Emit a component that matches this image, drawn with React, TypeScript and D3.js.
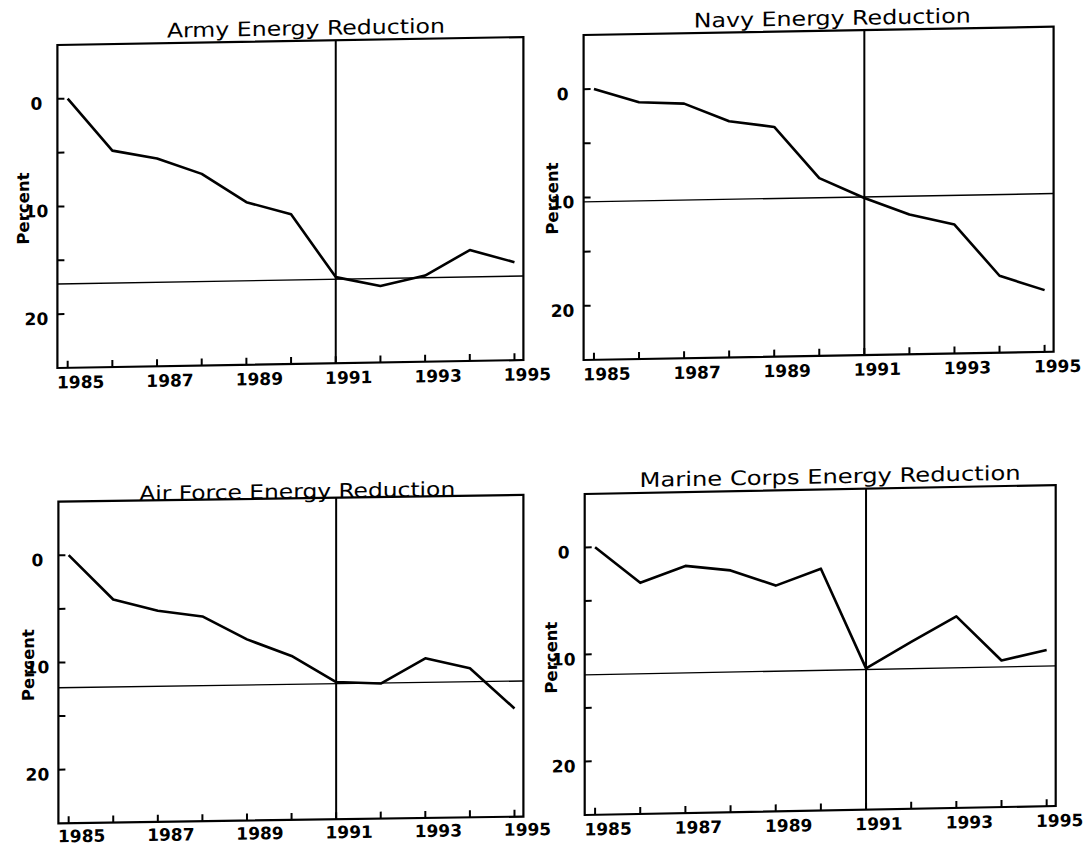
import React from 'react';
import * as d3 from 'd3';

// years on the x axis, one point per year
const years = [1985, 1986, 1987, 1988, 1989, 1990, 1991, 1992, 1993, 1994, 1995];

// percent reduction
const armyValues = [0, 4.9, 5.7, 7.2, 9.9, 11.1, 17.0, 17.9, 17.0, 14.7, 15.9];
const navyValues = [0, 1.3, 1.5, 3.2, 3.8, 8.6, 10.5, 12.1, 13.1, 17.9, 19.3];
const airForceValues = [0, 4.2, 5.3, 5.9, 8.1, 9.7, 12.2, 12.4, 10.1, 11.1, 14.9];
const marineValues = [0, 3.4, 1.9, 2.4, 3.9, 2.4, 11.8, 9.4, 7.1, 11.3, 10.4];

// horizontal target lines
const armyTarget = 17.2;
const navyTarget = 10.4;
const airForceTarget = 12.35;
const marineTarget = 11.9;

const markerYear = 1991;
const yTicks = [0, 5, 10, 15, 20];
const yTickLabels = [0, 10, 20];
const xTickLabels = [1985, 1987, 1989, 1991, 1993, 1995];

const FONT = '"DejaVu Sans", Verdana, sans-serif';

interface PanelProps {
  title: string;
  values: number[];
  target: number;
  x0: number;
  y0: number;
  w: number;
  h: number;
  tilt: number; // scan skew, degrees
  titleX: number;
  titleY: number;
  titleW: number;
  labelX: number;
  xLabelY: number;
}

const Panel: React.FC<PanelProps> = ({ title, values, target, x0, y0, w, h, tilt, titleX, titleY, titleW, labelX, xLabelY }) => {
  const x = d3.scaleLinear().domain([1984.77, 1995.2]).range([0, w]);
  const y = d3.scaleLinear().domain([-5, 25]).range([0, h]);
  const line = d3.line<number>()
    .x((_, i) => x(years[i]))
    .y(d => y(d));

  return (
    <g transform={`translate(${x0},${y0}) skewY(${-tilt})`}>
      <text x={titleX} y={titleY} textAnchor="middle" textLength={titleW} lengthAdjust="spacingAndGlyphs"
        style={{ fontFamily: FONT, fontSize: 20 }} fill="#000">{title}</text>

      <rect x={0} y={0} width={w} height={h} fill="none" stroke="#000" strokeWidth={2.2} />

      {yTicks.map(t => (
        <line key={'yt' + t} x1={0} x2={7} y1={y(t)} y2={y(t)} stroke="#000" strokeWidth={2} />
      ))}
      {years.map(t => (
        <line key={'xt' + t} x1={x(t)} x2={x(t)} y1={h} y2={h - 7} stroke="#000" strokeWidth={2} />
      ))}

      <line x1={0} x2={w} y1={y(target)} y2={y(target)} stroke="#000" strokeWidth={1.4} />
      <line x1={x(markerYear)} x2={x(markerYear)} y1={0} y2={h} stroke="#000" strokeWidth={2} />

      <path d={line(values) || ''} fill="none" stroke="#000" strokeWidth={2.6} strokeLinejoin="round" />

      {yTickLabels.map(t => (
        <text key={'yl' + t} x={-21} y={y(t) + 10.5} textAnchor="middle"
          style={{ fontFamily: FONT, fontSize: 17, fontWeight: 'bold' }}>{t}</text>
      ))}
      {xTickLabels.map(t => (
        <text key={'xl' + t} x={x(t) + 13} y={h + xLabelY} textAnchor="middle"
          style={{ fontFamily: FONT, fontSize: 17, fontWeight: 'bold' }}>{t}</text>
      ))}

      <text transform={`translate(${labelX},163) rotate(-90)`} textAnchor="middle"
        style={{ fontFamily: FONT, fontSize: 16.5, fontWeight: 'bold' }}>Percent</text>
    </g>
  );
};

export default function App() {
  return (
    <svg width={1087} height={846} viewBox="0 0 1087 846"
      style={{ position: 'absolute', left: 0, top: 0, background: '#fff' }}>
      <Panel title="Army Energy Reduction" values={armyValues} target={armyTarget}
        x0={57.4} y0={45} w={466} h={323} tilt={0.98}
        titleX={248.5} titleY={-5.7} titleW={278} labelX={-28} xLabelY={20.5} />
      <Panel title="Navy Energy Reduction" values={navyValues} target={navyTarget}
        x0={583.6} y0={35} w={470} h={325} tilt={1.01}
        titleX={248.6} titleY={-5.6} titleW={277} labelX={-26} xLabelY={20.5} />
      <Panel title="Air Force Energy Reduction" values={airForceValues} target={airForceTarget}
        x0={58.4} y0={501.7} w={465} h={321.6} tilt={0.83}
        titleX={238.8} titleY={0} titleW={316} labelX={-24} xLabelY={19} />
      <Panel title="Marine Corps Energy Reduction" values={marineValues} target={marineTarget}
        x0={584.7} y0={494} w={471} h={321} tilt={1.09}
        titleX={245.4} titleY={-6} titleW={381} labelX={-28} xLabelY={20.5} />
    </svg>
  );
}
